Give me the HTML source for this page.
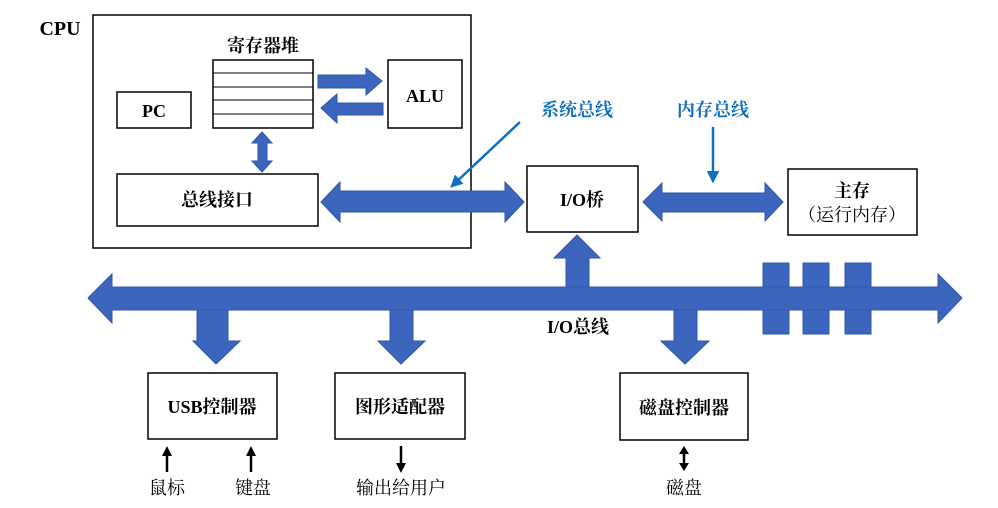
<!DOCTYPE html>
<html><head><meta charset="utf-8"><style>
html,body{margin:0;padding:0;background:#fff;}
svg{display:block;}
text{font-family:"Liberation Serif","Noto Serif CJK SC","Noto Sans CJK SC",serif;}
.b{font-weight:bold;font-size:18px;}
.n{font-size:18px;font-family:"Liberation Sans","Noto Sans CJK SC",sans-serif;}
</style></head><body>
<svg width="998" height="508" viewBox="0 0 998 508" xmlns="http://www.w3.org/2000/svg">
<defs>
<marker id="ba" markerWidth="5" markerHeight="5" refX="4" refY="2.5" orient="auto"><path d="M0,0 L5,2.5 L0,5 z" fill="#0f6fc0"/></marker>
</defs>
<g fill="#fff" stroke="#000" stroke-width="1.5">
<rect x="93" y="15" width="378" height="233"/>
<rect x="117" y="92" width="74" height="36"/>
<rect x="213" y="60" width="100" height="68"/>
<rect x="388" y="60" width="74" height="68"/>
<rect x="117" y="174" width="201" height="52"/>
<rect x="527" y="166" width="111" height="66"/>
<rect x="788" y="169" width="129" height="66"/>
<rect x="148" y="373" width="129" height="66"/>
<rect x="335" y="373" width="130" height="66"/>
<rect x="620" y="373" width="128" height="67"/>
</g>
<g stroke="#000" stroke-width="1">
<line x1="213" y1="73" x2="313" y2="73"/><line x1="213" y1="87" x2="313" y2="87"/>
<line x1="213" y1="100" x2="313" y2="100"/><line x1="213" y1="114" x2="313" y2="114"/>
</g>
<g fill="#3c66be" stroke="#2f55a8" stroke-width="1">
<polygon points="318,75 366,75 366,68 382,81 366,95 366,88 318,88"/>
<polygon points="383,103 337,103 337,94 321,108 337,123 337,115 383,115"/>
<polygon points="262,132 272,143 267,143 267,161 272,161 262,172 252,161 258,161 258,143 252,143"/>
<polygon points="321,202 340,182 340,191 505,191 505,182 524,202 505,222 505,212 340,212 340,222"/>
<polygon points="643,202 662,183 662,193 765,193 765,183 783,202 765,221 765,212 662,212 662,221"/>
<polygon points="577,235 600,258 589,258 589,287 566,287 566,258 554,258"/>
<rect x="763" y="263" width="26" height="71"/>
<rect x="803" y="263" width="26" height="71"/>
<rect x="845" y="263" width="26" height="71"/>
<polygon points="88,298 112,274 112,287 938,287 938,274 962,298 938,323 938,310 112,310 112,323"/>
<polygon points="197,310 228,310 228,341 240,341 216,364 193,341 197,341"/>
<polygon points="390,310 413,310 413,341 425,341 401,364 378,341 390,341"/>
<polygon points="674,310 697,310 697,341 709,341 685,364 661,341 674,341"/>
</g>
<g stroke="#0f6fc0" stroke-width="2.5" fill="none">
<line x1="520" y1="122" x2="452" y2="186" marker-end="url(#ba)"/>
<line x1="713" y1="127" x2="713" y2="181" marker-end="url(#ba)"/>
</g>
<g stroke="#000" stroke-width="2.5">
<line x1="167" y1="472" x2="167" y2="453"/><line x1="251" y1="472" x2="251" y2="453"/>
<line x1="401" y1="446" x2="401" y2="466"/><line x1="684" y1="451" x2="684" y2="466"/>
</g>
<g fill="#000">
<polygon points="162,456 167,446 172,456"/><polygon points="246,456 251,446 256,456"/>
<polygon points="396,463 401,473 406,463"/>
<polygon points="679,454 684,446 689,454"/><polygon points="679,463 684,471 689,463"/>
</g>
<g class="b" text-anchor="middle">
<text x="60" y="35" style="font-size:20px">CPU</text>
<text x="263" y="52">寄存器堆</text>
<text x="154" y="117">PC</text>
<text x="425" y="102">ALU</text>
<text x="217" y="206">总线接口</text>
<text x="582" y="206">I/O桥</text>
<text x="852" y="197">主存</text>
<text x="578" y="333">I/O总线</text>
<text x="212" y="413">USB控制器</text>
<text x="400" y="413">图形适配器</text>
<text x="684" y="414">磁盘控制器</text>
</g>
<g class="n" text-anchor="middle">
<text x="852" y="221">（运行内存）</text>
<text x="167" y="494">鼠标</text>
<text x="253" y="494">键盘</text>
<text x="401" y="494">输出给用户</text>
<text x="684" y="494">磁盘</text>
<text x="577" y="116" fill="#0f6fc0" font-weight="bold">系统总线</text>
<text x="713" y="116" fill="#0f6fc0" font-weight="bold">内存总线</text>
</g>
</svg>
</body></html>
